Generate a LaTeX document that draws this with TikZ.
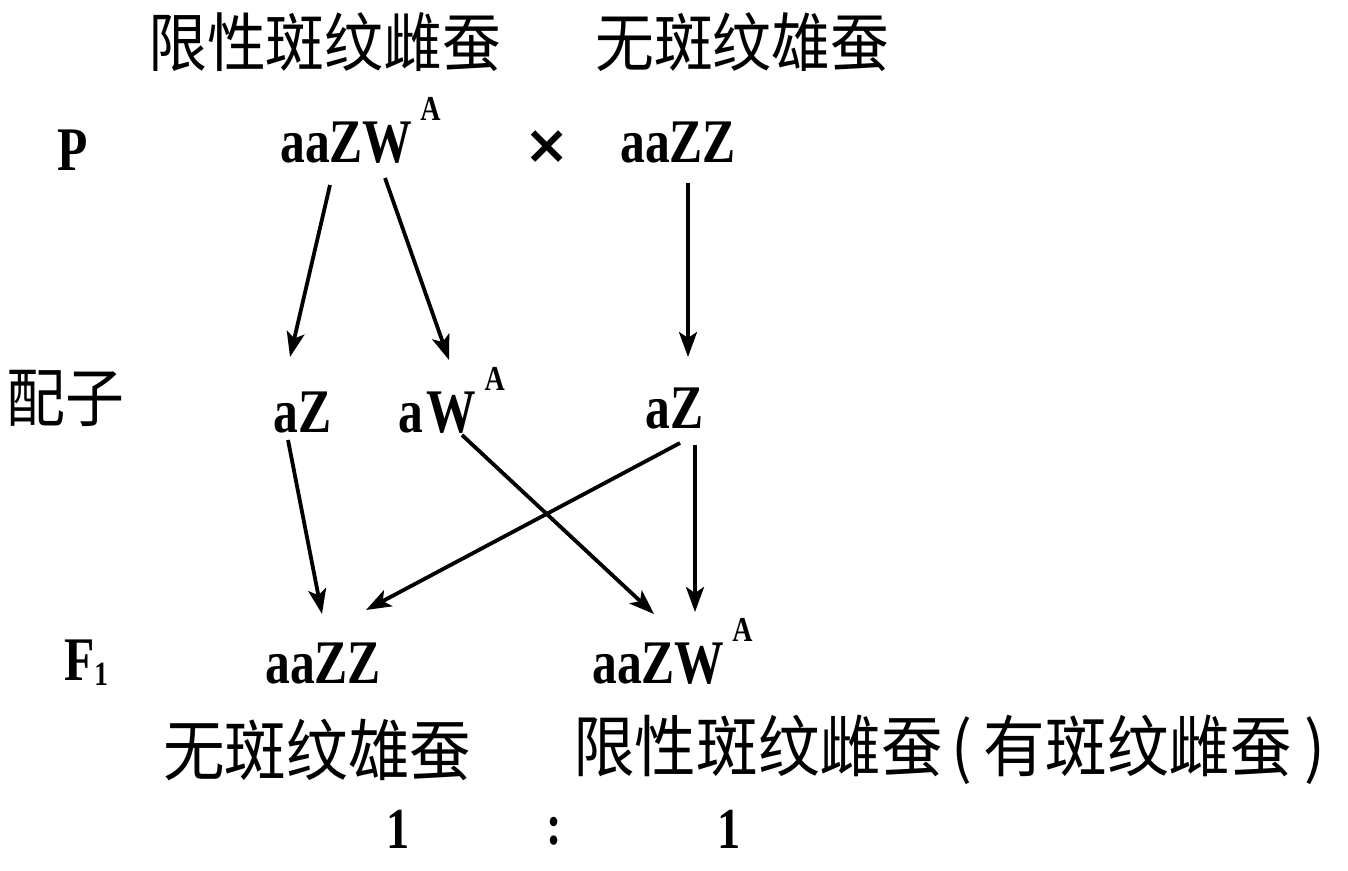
\documentclass[tikz,border=0pt]{standalone}
\usepackage{fontspec}
\setmainfont{Liberation Serif}[FakeStretch=0.8]
\newfontfamily\cjk{Noto Sans CJK SC}[FakeStretch=0.92]
\newfontfamily\symfont{DejaVu Sans}
\usetikzlibrary{positioning, arrows.meta}

\newcommand{\supA}{\hspace{8pt}\raisebox{42pt}{\fontsize{35}{35}\selectfont A}}

\begin{document}
\begin{tikzpicture}[x=1pt, y=-1pt,
			gene/.style={inner sep=0pt, anchor=base west, font=\fontsize{62}{62}\selectfont\bfseries},
			hanzi/.style={inner sep=0pt, anchor=west, font=\fontsize{64}{64}\selectfont\cjk},
			bighanzi/.style={hanzi, font=\fontsize{67}{67}\selectfont\cjk},
			ratio/.style={gene, font=\fontsize{58}{58}\selectfont\bfseries},
			arrow/.style={-{Stealth[length=25pt, width=18pt, inset=6pt]}, line width=3.8pt}
			]
			\useasboundingbox (0,0) rectangle (1348,870);
			% top labels
			\node[hanzi] (tfemale) at (148,42) {限性斑纹雌蚕};
			\node[hanzi] (tmale) at (595,42) {无斑纹雄蚕};
			% P row
			\node[gene] (P) at (57,170) {P};
			\node[gene] (pf) at (280,162) {aaZW\supA};
			\node[inner sep=0pt, font=\fontsize{54}{54}\selectfont\symfont\bfseries] (cross) at (547,147) {×};
			\node[gene] (pm) at (620,162) {aaZZ};
			% gametes
			\node[hanzi] (gam) at (6,398) {配子};
			\node[gene] (g1) at (273,432) {aZ};
			\node[gene] (g2) at (398,432) {a\hspace{4pt}W\supA};
			\node[gene] (g3) at (645,428) {aZ};
			% F1
			\node[gene] (F) at (64,680) {F\raisebox{-5pt}{\fontsize{34}{34}\selectfont 1}};
			\node[gene] (f1) at (265,683) {aaZZ};
			\node[gene] (f2) at (592,683) {aaZW\supA};
			% phenotypes
			\node[bighanzi] (pheno1) at (163,750) {无斑纹雄蚕};
			\node[bighanzi] (pheno2) at (573,750) {限性斑纹雌蚕\hspace{8pt}(\hspace{12pt}有斑纹雌蚕\hspace{12pt})};
			\node[ratio] (r1) at (386,848) {1};
			\node[ratio] (colon) at (546,844) {:};
			\node[ratio] (r2) at (717,848) {1};
			% arrow ends
			\coordinate (pf1) at (330,185);
			\coordinate (pf2) at (385,178);
			\coordinate (pm1) at (688,183);
			\coordinate (g1in) at (290,357);
			\coordinate (g2in) at (449,360);
			\coordinate (g3in) at (688,357);
			\coordinate (g1out) at (288,440);
			\coordinate (g2out) at (462,435);
			\coordinate (g3outa) at (680,443);
			\coordinate (g3outb) at (695,445);
			\coordinate (f1ina) at (322,614);
			\coordinate (f1inb) at (366,610);
			\coordinate (f2ina) at (654,614);
			\coordinate (f2inb) at (695,612);
			\draw[arrow] (pf1) -- (g1in);
			\draw[arrow] (pf2) -- (g2in);
			\draw[arrow] (pm1) -- (g3in);
			\draw[arrow] (g1out) -- (f1ina);
			\draw[arrow] (g2out) -- (f2ina);
			\draw[arrow] (g3outa) -- (f1inb);
			\draw[arrow] (g3outb) -- (f2inb);
		\end{tikzpicture}
\end{document}
